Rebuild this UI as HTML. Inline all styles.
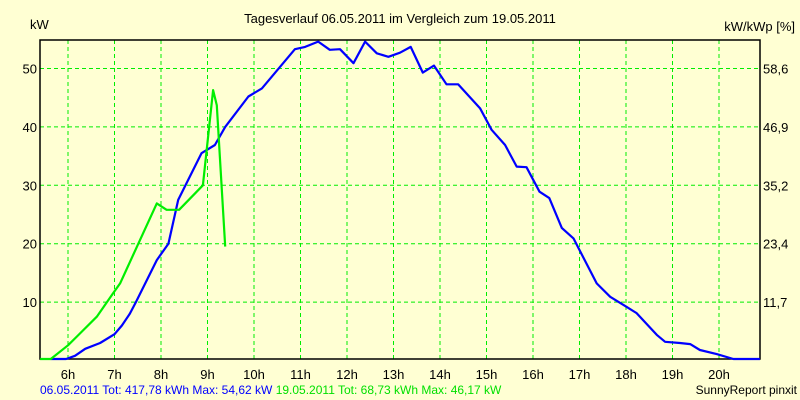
<!DOCTYPE html>
<html><head><meta charset="utf-8"><style>
html,body{margin:0;padding:0;background:#ffffd3;}
svg{display:block;font-family:"Liberation Sans",sans-serif;}
</style></head><body>
<svg id="chart" width="800" height="400" viewBox="0 0 800 400" xmlns="http://www.w3.org/2000/svg">
<rect x="0" y="0" width="800" height="400" fill="#ffffd3"/>
<text x="400" y="23" text-anchor="middle" font-size="13" fill="#000">Tagesverlauf 06.05.2011 im Vergleich zum 19.05.2011</text>
<text x="30" y="29" font-size="13" fill="#000">kW</text>
<text x="795" y="31" text-anchor="end" font-size="13" fill="#000">kW/kWp [%]</text>
<g id="grid"></g>
<g id="axes"></g>
<g id="series"></g>
<text x="40" y="394" font-size="12"><tspan fill="#0000ff">06.05.2011 Tot: 417,78 kWh Max: 54,62 kW</tspan><tspan fill="#00e000"> 19.05.2011 Tot: 68,73 kWh Max: 46,17 kW</tspan></text>
<text x="797" y="394" text-anchor="end" font-size="12" fill="#000">SunnyReport pinxit</text>
</svg>
<script>
const hourTicks = [6,7,8,9,10,11,12,13,14,15,16,17,18,19,20];
const yTicks = [10,20,30,40,50];
const y2Labels = ["11,7","23,4","35,2","46,9","58,6"];
const blueHours = [5.63,5.96,6.15,6.37,6.69,7.0,7.16,7.33,7.46,7.91,8.16,8.37,8.87,9.16,9.38,9.88,10.17,10.88,11.10,11.38,11.63,11.85,12.14,12.39,12.64,12.89,13.14,13.37,13.63,13.87,14.14,14.39,14.86,15.11,15.40,15.65,15.86,16.14,16.35,16.62,16.87,17.37,17.66,18.01,18.23,18.66,18.84,19.16,19.38,19.59,19.95,20.31,20.88];
const blueKW = [0,0,0.8,2,3,4.5,6,8,10,17.2,20,27.5,35.5,36.9,40,45.2,46.6,53.3,53.7,54.6,53.2,53.3,50.9,54.6,52.6,52,52.7,53.7,49.3,50.5,47.3,47.3,43.2,39.5,36.9,33.2,33.1,28.9,27.8,22.7,20.9,13.2,10.9,9.2,8.1,4.4,3.2,3.0,2.8,1.8,1.1,0.2,0.2];
const greenHours = [5.4,5.63,6.0,6.19,6.62,6.97,7.12,7.91,8.12,8.39,8.90,9.12,9.20,9.38];
const greenKW = [0,0,2.6,4.1,7.5,11.5,13.2,26.9,25.8,25.8,30,46.3,43.7,19.5];

const NS = "http://www.w3.org/2000/svg";
const X0 = 40, X1 = 760, Y0 = 40, Y1 = 359;
const xS = h => 68 + (h - 6) * 46.5;
const yS = v => 360.5 - v * 5.84;
function mk(tag, attrs, parent){const e=document.createElementNS(NS,tag);for(const k in attrs)e.setAttribute(k,attrs[k]);parent.appendChild(e);return e;}
const grid=document.getElementById('grid'), axes=document.getElementById('axes'), series=document.getElementById('series');
hourTicks.forEach(h=>{
  const x=xS(h);
  const l=mk('line',{x1:x,y1:Y0,x2:x,y2:Y1,stroke:'#00ee00','stroke-width':1,'stroke-dasharray':'4,3'},grid);
  
  
  const t=mk('text',{x:x,y:379,'text-anchor':'middle','font-size':13,fill:'#000'},axes);
  t.textContent=h+'h';
  
  
});
yTicks.forEach((v,i)=>{
  const y=yS(v);
  const l=mk('line',{x1:X0,y1:y,x2:X1,y2:y,stroke:'#00ee00','stroke-width':1,'stroke-dasharray':'4,3'},grid);
  
  
  const t=mk('text',{x:37,y:y+5,'text-anchor':'end','font-size':13,fill:'#000'},axes);
  t.textContent=v;
  
  
  const t2=mk('text',{x:763,y:y+5,'font-size':13,fill:'#000'},axes);
  t2.textContent=y2Labels[i];
  
  
});
const frame=mk('path',{d:`M${X0},${Y0}H${X1}V${Y1}H${X0}Z`,fill:'none',stroke:'#000','stroke-width':1.5},axes);


function line(hs,vs,color,name){
  const pts=hs.map((h,i)=>xS(h).toFixed(1)+','+Math.min(Y1,yS(vs[i])).toFixed(1)).join(' ');
  const p=mk('polyline',{points:pts,fill:'none',stroke:color,'stroke-width':2.2,'stroke-linejoin':'round'},series);
  
  
}
line(blueHours,blueKW,'#0000ff','series-06-05-2011');
line(greenHours,greenKW,'#00ee00','series-19-05-2011');
</script>
</body></html>
